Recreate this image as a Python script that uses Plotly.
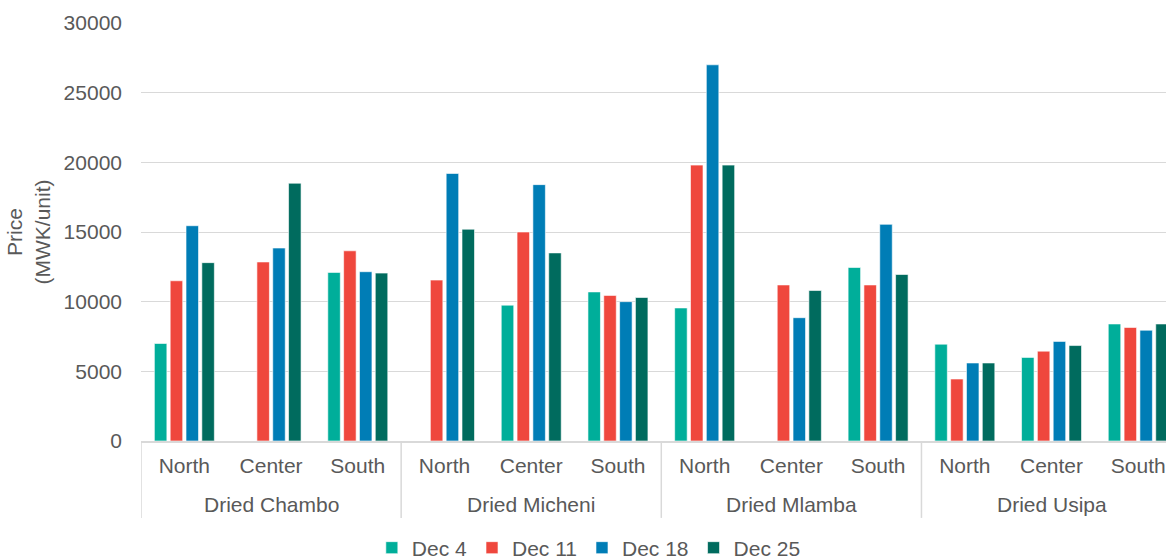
import plotly.graph_objects as go

products = ["Dried Chambo", "Dried Micheni", "Dried Mlamba", "Dried Usipa"]
regions = ["North", "Center", "South"]

series_names = ["Dec 4", "Dec 11", "Dec 18", "Dec 25"]
dec4 = [7000, None, 12100, None, 9750, 10700, 9550, None, 12450, 6950, 6000, 8400]
dec11 = [11500, 12850, 13650, 11550, 15000, 10450, 19800, 11200, 11200, 4450, 6450, 8150]
dec18 = [15450, 13850, 12150, 19200, 18400, 10000, 27000, 8850, 15550, 5600, 7150, 7950]
dec25 = [12800, 18500, 12050, 15200, 13500, 10300, 19800, 10800, 11950, 5600, 6850, 8400]
colors = ["#00AE9A", "#EF473D", "#007DB6", "#006B5E"]
y_ticks = [0, 5000, 10000, 15000, 20000, 25000, 30000]

cats = [f"{p}|{r}" for p in products for r in regions]
cat_text = [r for p in products for r in regions]

font_col = "#595959"
grid_col = "#d9d9d9"
FS = 21

fig = go.Figure()
for name, vals, col in zip(series_names, [dec4, dec11, dec18, dec25], colors):
    fig.add_trace(go.Bar(
        x=cats, y=vals, name=name,
        marker=dict(color=col, line=dict(color="white", width=0.6)),
    ))

# group labels and dividers below the axis
n = len(regions)
for i, p in enumerate(products):
    fig.add_annotation(
        x=cats[i * n + n // 2], xref="x", y=-0.153, yref="paper",
        text=p, showarrow=False, yanchor="middle",
        font=dict(size=FS, color=font_col),
    )
for i in range(len(products) + 1):
    fig.add_shape(
        type="line", xref="x", yref="paper",
        x0=i * n - 0.5, x1=i * n - 0.5, y0=0, y1=-0.184,
        line=dict(color=grid_col, width=1.5),
    )

fig.update_layout(
    width=1166, height=560,
    margin=dict(l=141, r=0, t=23, b=119),
    paper_bgcolor="white", plot_bgcolor="white",
    font=dict(family="Liberation Sans, Arial, sans-serif", size=FS, color=font_col),
    barmode="group", bargap=0.27, bargroupgap=0.21,
    showlegend=True,
    legend=dict(orientation="h", xref="container", yref="container",
                x=0.505, xanchor="center", y=0.0214, yanchor="middle",
                font=dict(size=FS, color=font_col), traceorder="normal"),
)
fig.update_xaxes(
    type="category", range=[-0.5, 11.32],
    tickvals=cats, ticktext=cat_text, ticks="", ticklabelstandoff=5,
    showline=True, linecolor=grid_col, linewidth=1.5,
    showgrid=False, tickfont=dict(size=FS, color=font_col),
)
fig.update_yaxes(
    range=[0, 30000], tickvals=y_ticks, tickformat="d",
    showgrid=True, gridcolor=grid_col, gridwidth=1.3, zeroline=False,
    tickfont=dict(size=FS, color=font_col), ticklabelstandoff=18,
    title=dict(text="Price<br>(MWK/unit)", font=dict(size=FS, color=font_col), standoff=7),
)

fig.write_html(
    "out.html",
    config={"displayModeBar": False},
    post_script="document.body.style.margin='0';document.body.style.overflow='hidden';",
)
